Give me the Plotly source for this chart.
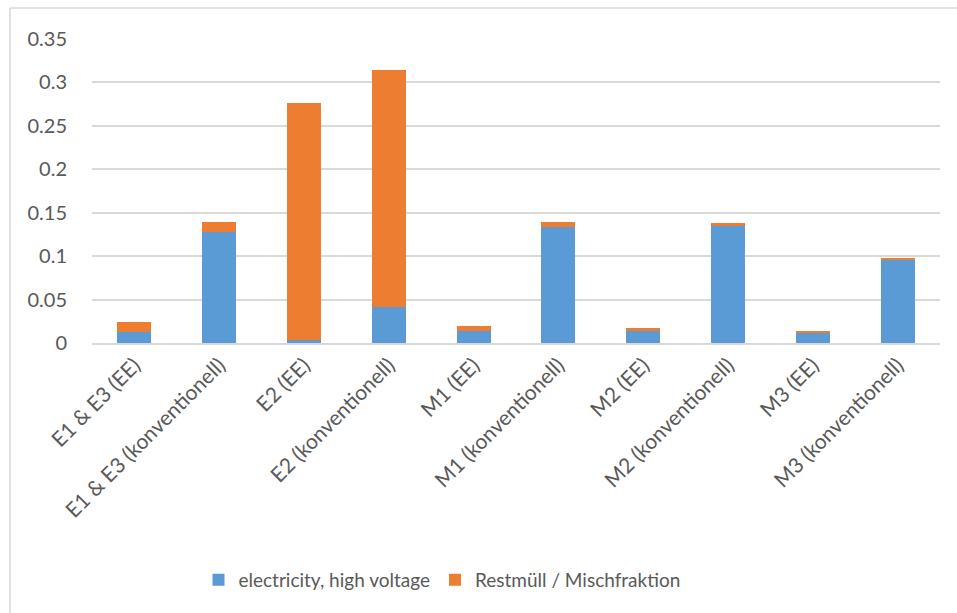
import plotly.graph_objects as go

categories = [
    "E1 & E3 (EE)", "E1 & E3 (konventionell)",
    "E2 (EE)", "E2 (konventionell)",
    "M1 (EE)", "M1 (konventionell)",
    "M2 (EE)", "M2 (konventionell)",
    "M3 (EE)", "M3 (konventionell)",
]
electricity = [0.0128, 0.1283, 0.0039, 0.0417, 0.0139, 0.1333, 0.0139, 0.1345, 0.0120, 0.0959]
restmuell = [0.0109, 0.0105, 0.2728, 0.2721, 0.0054, 0.0055, 0.0031, 0.0031, 0.0015, 0.0011]

y_ticks = [0, 0.05, 0.1, 0.15, 0.2, 0.25, 0.3, 0.35]
y_labels = ["0", "0.05", "0.1", "0.15", "0.2", "0.25", "0.3", "0.35"]

FONT = "Lato"
GREY = "#595959"
LINE = "#d9d9d9"

fig = go.Figure()
fig.add_trace(go.Bar(x=categories, y=electricity, name="electricity, high voltage",
                     marker=dict(color="#5B9BD5", line=dict(width=0))))
fig.add_trace(go.Bar(x=categories, y=restmuell, name="Restmüll / Mischfraktion",
                     marker=dict(color="#ED7D31", line=dict(width=0))))

W, H = 957, 613
ml, mr, mt, mb = 92, 17, 39, 270
pw, ph = W - ml - mr, H - mt - mb

def px_x(x):
    return (x - ml) / pw

def px_y(y):
    return (H - mb - y) / ph

# chart frame (left and top edges)
fig.add_shape(type="line", xref="paper", yref="paper",
              x0=px_x(10), x1=px_x(10), y0=px_y(8), y1=px_y(620),
              line=dict(color=LINE, width=1.5))
fig.add_shape(type="line", xref="paper", yref="paper",
              x0=px_x(10), x1=px_x(965), y0=px_y(8), y1=px_y(8),
              line=dict(color=LINE, width=1.5))

fig.update_layout(
    barmode="stack",
    bargap=0.6,
    width=W, height=H,
    margin=dict(l=ml, r=mr, t=mt, b=mb),
    paper_bgcolor="white",
    plot_bgcolor="white",
    font=dict(family=FONT, size=20, color=GREY),
    showlegend=True,
    legend=dict(orientation="h", x=px_x(442), xanchor="center", y=px_y(580), yanchor="middle",
                font=dict(family=FONT, size=19, color=GREY), itemwidth=30,
                traceorder="normal"),
    xaxis=dict(tickangle=-45, showgrid=False, showline=True, linecolor=LINE, linewidth=1.5,
               ticks="", tickfont=dict(family=FONT, size=21, color=GREY),
               range=[-0.5, 9.5], fixedrange=True),
    yaxis=dict(range=[0, 0.35], tickvals=y_ticks, ticktext=y_labels,
               showgrid=True, gridcolor=LINE, gridwidth=1.5, zeroline=False,
               showline=False, ticks="", ticklabelstandoff=24,
               tickfont=dict(family=FONT, size=20, color=GREY)),
)

fig.write_html("out.html")
